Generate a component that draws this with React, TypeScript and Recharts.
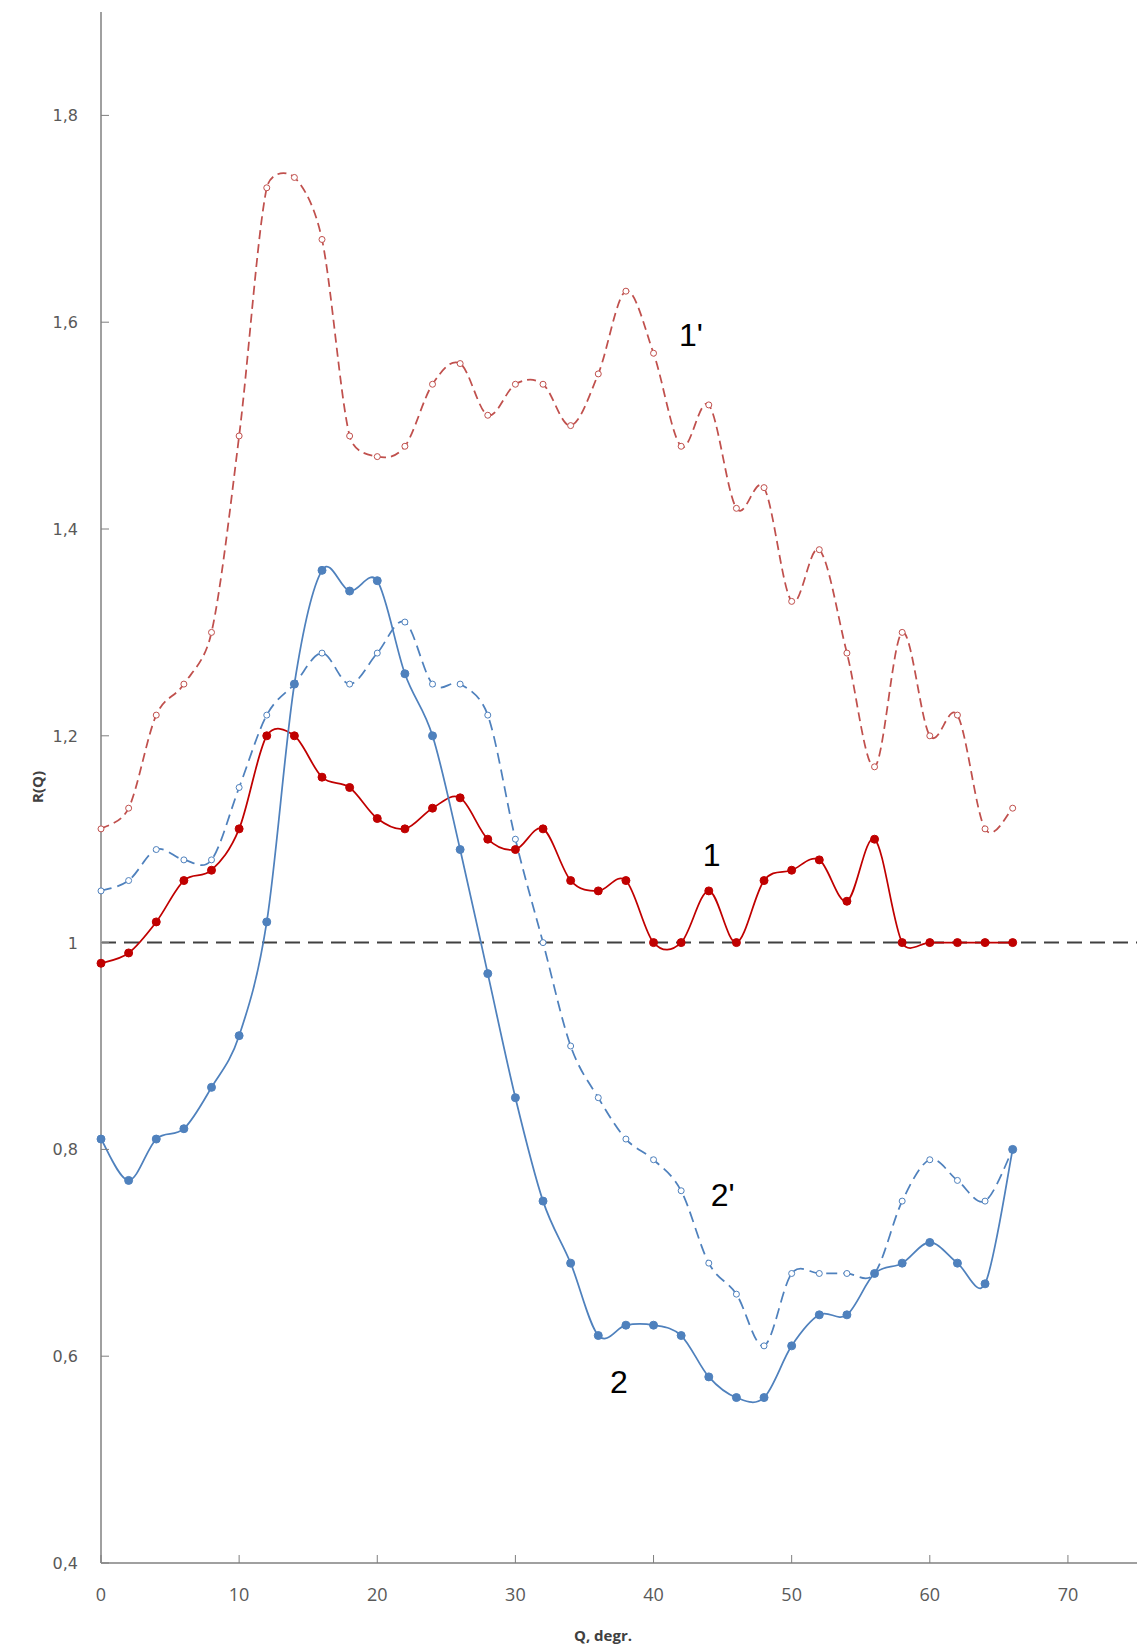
import { LineChart, Line, XAxis, YAxis, ReferenceLine, ReferenceDot } from 'recharts';

document.body.style.margin = '0';

const Q = [0, 2, 4, 6, 8, 10, 12, 14, 16, 18, 20, 22, 24, 26, 28, 30, 32, 34, 36, 38, 40, 42, 44, 46, 48, 50, 52, 54, 56, 58, 60, 62, 64, 66];

// curve 1' (red, dashed, open markers)
const R1P = [1.11, 1.13, 1.22, 1.25, 1.3, 1.49, 1.73, 1.74, 1.68, 1.49, 1.47, 1.48, 1.54, 1.56, 1.51, 1.54, 1.54, 1.5, 1.55, 1.63, 1.57, 1.48, 1.52, 1.42, 1.44, 1.33, 1.38, 1.28, 1.17, 1.3, 1.2, 1.22, 1.11, 1.13];
// curve 1 (red, solid)
const R1 = [0.98, 0.99, 1.02, 1.06, 1.07, 1.11, 1.2, 1.2, 1.16, 1.15, 1.12, 1.11, 1.13, 1.14, 1.1, 1.09, 1.11, 1.06, 1.05, 1.06, 1.0, 1.0, 1.05, 1.0, 1.06, 1.07, 1.08, 1.04, 1.1, 1.0, 1.0, 1.0, 1.0, 1.0];
// curve 2 (blue, solid)
const R2 = [0.81, 0.77, 0.81, 0.82, 0.86, 0.91, 1.02, 1.25, 1.36, 1.34, 1.35, 1.26, 1.2, 1.09, 0.97, 0.85, 0.75, 0.69, 0.62, 0.63, 0.63, 0.62, 0.58, 0.56, 0.56, 0.61, 0.64, 0.64, 0.68, 0.69, 0.71, 0.69, 0.67, 0.8];
// curve 2' (blue, dashed, open markers)
const R2P = [1.05, 1.06, 1.09, 1.08, 1.08, 1.15, 1.22, 1.25, 1.28, 1.25, 1.28, 1.31, 1.25, 1.25, 1.22, 1.1, 1.0, 0.9, 0.85, 0.81, 0.79, 0.76, 0.69, 0.66, 0.61, 0.68, 0.68, 0.68, 0.68, 0.75, 0.79, 0.77, 0.75, 0.8];

const X_TICKS = [0, 10, 20, 30, 40, 50, 60, 70];
const Y_TICKS = [0.4, 0.6, 0.8, 1, 1.2, 1.4, 1.6, 1.8];

const data = Q.map((q, i) => ({ q, r1p: R1P[i], r1: R1[i], r2: R2[i], r2p: R2P[i] }));

const RED = '#C00000';
const RED_LIGHT = '#C0504D';
const BLUE = '#4F81BD';
const AXIS = '#A0A0A0';

const W = 1137;
const H = 1647;
const AXIS_X = 101;
const AXIS_Y = 1563;

const dist = (a: number[], b: number[]) => Math.hypot(a[0] - b[0], a[1] - b[1]);

// Excel-like smoothed line: Catmull-Rom arms (1/6), capped at half the segment length
const excelSmooth = (context: any) => {
  let pts: number[][] = [];
  return {
    areaStart() {},
    areaEnd() {},
    lineStart() {
      pts = [];
    },
    lineEnd() {
      const n = pts.length;
      if (!n) return;
      context.moveTo(pts[0][0], pts[0][1]);
      for (let i = 0; i < n - 1; i++) {
        const p0 = pts[i - 1] || pts[i];
        const p1 = pts[i];
        const p2 = pts[i + 1];
        const p3 = pts[i + 2] || p2;
        const d12 = dist(p1, p2);
        const d02 = dist(p0, p2);
        const d13 = dist(p1, p3);
        let f1 = 1 / 6;
        let f2 = 1 / 6;
        if (d02 / 6 > d12 / 2 && d02 > 0) f1 = d12 / 2 / d02;
        if (d13 / 6 > d12 / 2 && d13 > 0) f2 = d12 / 2 / d13;
        context.bezierCurveTo(
          p1[0] + (p2[0] - p0[0]) * f1,
          p1[1] + (p2[1] - p0[1]) * f1,
          p2[0] - (p3[0] - p1[0]) * f2,
          p2[1] - (p3[1] - p1[1]) * f2,
          p2[0],
          p2[1]
        );
      }
    },
    point(x: number, y: number) {
      pts.push([+x, +y]);
    },
  };
};

const fmtY = (v: number) => String(Math.round(v * 10) / 10).replace('.', ',');

const YTick = (props: any) => {
  const { y, payload } = props;
  return (
    <g>
      <line x1={AXIS_X} x2={AXIS_X + 8} y1={y} y2={y} stroke="#7F7F7F" strokeWidth={1} />
      <text x={AXIS_X - 23} y={y} dy={6} textAnchor="end" fill="#595959" fontSize={16} fontFamily="DejaVu Sans, Verdana, sans-serif">
        {fmtY(payload.value)}
      </text>
    </g>
  );
};

const XTick = (props: any) => {
  const { x, payload } = props;
  return (
    <g>
      <line x1={x} x2={x} y1={AXIS_Y} y2={AXIS_Y - 8} stroke="#7F7F7F" strokeWidth={1} />
      <text x={x} y={AXIS_Y + 32} dy={6} textAnchor="middle" fill="#595959" fontSize={18} fontFamily="'Liberation Sans Narrow', 'Open Sans', sans-serif">
        {payload.value}
      </text>
    </g>
  );
};

const openDot = (color: string) => ({ r: 3, fill: '#fff', stroke: color, strokeWidth: 1, strokeDasharray: '' });
const fullDot = (color: string) => ({ r: 4, fill: color, stroke: color, strokeWidth: 1, strokeDasharray: '' });

const curveLabel = (value: string) => ({
  value,
  position: 'center' as const,
  fontSize: 32,
  fill: '#000',
});

export default function App() {
  return (
    <div style={{ position: 'relative', width: W, height: H, background: '#fff', fontFamily: "'Liberation Sans', Arial, sans-serif" }}>
      <LineChart width={W} height={H} data={data} margin={{ top: 12, right: 0, bottom: 0, left: 0 }}>
        <XAxis
          dataKey="q"
          type="number"
          domain={[0, 75]}
          ticks={X_TICKS}
          height={H - AXIS_Y}
          axisLine={{ stroke: AXIS, strokeWidth: 2 }}
          tickLine={false}
          tick={<XTick />}
          interval={0}
        />
        <YAxis
          type="number"
          domain={[0.4, 1.9]}
          ticks={Y_TICKS}
          width={AXIS_X}
          axisLine={{ stroke: AXIS, strokeWidth: 2 }}
          tickLine={false}
          tick={<YTick />}
          interval={0}
          allowDataOverflow
        />
        <ReferenceLine y={1} stroke="#404040" strokeWidth={2} strokeDasharray="15 8" />
        <Line
          dataKey="r1p"
          type={excelSmooth as any}
          stroke={RED_LIGHT}
          strokeWidth={1.75}
          strokeDasharray="9 5"
          dot={openDot(RED_LIGHT)}
          activeDot={false}
          isAnimationActive={false}
        />
        <Line
          dataKey="r2p"
          type={excelSmooth as any}
          stroke={BLUE}
          strokeWidth={1.75}
          strokeDasharray="11 6"
          dot={openDot(BLUE)}
          activeDot={false}
          isAnimationActive={false}
        />
        <Line
          dataKey="r1"
          type={excelSmooth as any}
          stroke={RED}
          strokeWidth={1.75}
          dot={fullDot(RED)}
          activeDot={false}
          isAnimationActive={false}
        />
        <Line
          dataKey="r2"
          type={excelSmooth as any}
          stroke={BLUE}
          strokeWidth={1.75}
          dot={fullDot(BLUE)}
          activeDot={false}
          isAnimationActive={false}
        />
        <ReferenceDot x={42.7} y={1.588} r={0} fill="none" stroke="none" label={curveLabel("1'")} />
        <ReferenceDot x={44.2} y={1.085} r={0} fill="none" stroke="none" label={curveLabel('1')} />
        <ReferenceDot x={45.0} y={0.756} r={0} fill="none" stroke="none" label={curveLabel("2'")} />
        <ReferenceDot x={37.5} y={0.575} r={0} fill="none" stroke="none" label={curveLabel('2')} />
      </LineChart>
      <div
        style={{
          position: 'absolute',
          left: 37,
          top: 787,
          transform: 'translate(-50%, -50%) rotate(-90deg)',
          fontWeight: 'bold',
          fontSize: 15,
          color: '#404040',
          fontFamily: "'Open Sans', sans-serif",
          whiteSpace: 'nowrap',
        }}
      >
        R(Q)
      </div>
      <div
        style={{
          position: 'absolute',
          left: 603,
          top: 1635,
          transform: 'translate(-50%, -50%)',
          fontWeight: 'bold',
          fontSize: 15,
          color: '#404040',
          fontFamily: "'Open Sans', sans-serif",
          whiteSpace: 'nowrap',
        }}
      >
        Q, degr.
      </div>
    </div>
  );
}
